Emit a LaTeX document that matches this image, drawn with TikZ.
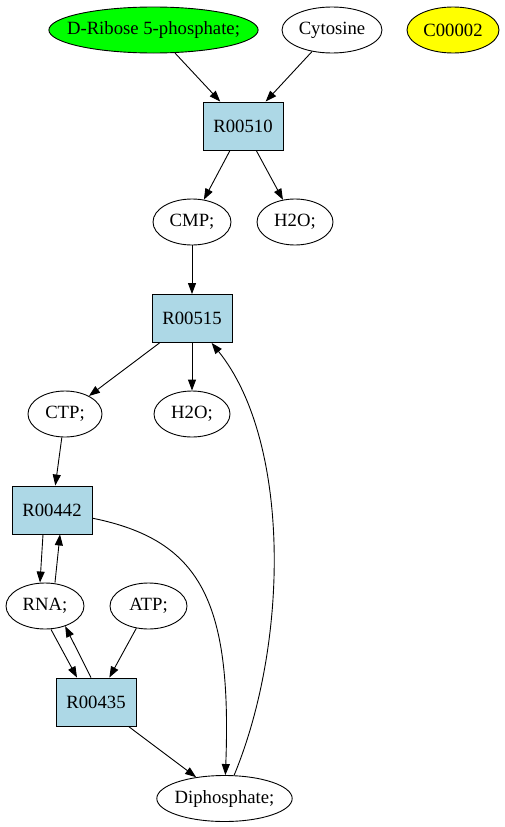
\documentclass[tikz,border=0pt]{standalone}
\usepackage{fontspec}
\setmainfont{Liberation Serif}
\usetikzlibrary{arrows.meta,shapes.geometric}
\definecolor{rxnblue}{HTML}{ADD8E6}
\definecolor{cpdgreen}{HTML}{00FF00}
\definecolor{cpdyellow}{HTML}{FFFF00}
\tikzset{
  cpd/.style={draw,ellipse,line width=0.9pt,minimum height=46pt,inner sep=0pt,inner xsep=-2pt,font=\fontsize{18.7}{22}\selectfont},
  rxn/.style={draw,rectangle,line width=0.9pt,fill=rxnblue,minimum width=80pt,minimum height=48pt,inner sep=0pt,font=\fontsize{18.7}{22}\selectfont},
  flow/.style={-{Triangle[length=11pt,width=8pt]},line width=0.9pt}
}
\begin{document}
\begin{tikzpicture}[x=1pt,y=-1pt]
\useasboundingbox[fill=white] (0,0) rectangle (505,827);
\node[cpd,fill=cpdgreen,minimum width=207pt,inner xsep=-12.5pt] (ribose) at (153.5,30) {D-Ribose 5-phosphate;};
\node[cpd,minimum width=100pt] (cytosine) at (332,30) {Cytosine};
\node[cpd,fill=cpdyellow,minimum width=92pt] (c00002) at (453,30) {C00002};
\node[rxn] (r00510) at (243,126) {R00510};
\node[cpd,minimum width=78pt] (cmp) at (192,222) {CMP;};
\node[cpd,minimum width=76pt] (h2oa) at (295,222) {H2O;};
\node[rxn] (r00515) at (192,318.5) {R00515};
\node[cpd,minimum width=74pt] (ctp) at (65,414) {CTP;};
\node[cpd,minimum width=76pt] (h2ob) at (192,414) {H2O;};
\node[rxn] (r00442) at (52,510) {R00442};
\node[cpd,minimum width=78pt] (rna) at (45,606) {RNA;};
\node[cpd,minimum width=77pt] (atp) at (148.5,606) {ATP;};
\node[rxn] (r00435) at (96,702) {R00435};
\node[cpd,minimum width=135pt] (diph) at (224.5,798.5) {Diphosphate;};
\draw[flow] (ribose) -- (r00510);
\draw[flow] (cytosine) -- (r00510);
\draw[flow] (r00510) -- (cmp);
\draw[flow] (r00510) -- (h2oa);
\draw[flow] (cmp) -- (r00515);
\draw[flow] (r00515) -- (ctp);
\draw[flow] (r00515) -- (h2ob);
\draw[flow] (ctp) -- (r00442);
\draw[flow] ([xshift=-9pt]r00442.south) -- ([xshift=-5pt]rna.north);
\draw[flow] ([xshift=10pt]rna.north) -- ([xshift=8pt]r00442.south);
\draw[flow] ([xshift=6pt]rna.south) -- ([xshift=-19pt]r00435.north);
\draw[flow] ([xshift=-5pt]r00435.north) -- (rna.-45);
\draw[flow] (atp) -- (r00435);
\draw[flow] (r00435) -- (diph);
\draw[flow] (r00442) .. controls (200,540) and (232,600) .. (diph);
\draw[flow] (diph) .. controls (290,640) and (290,440) .. (r00515);
\end{tikzpicture}
\end{document}
